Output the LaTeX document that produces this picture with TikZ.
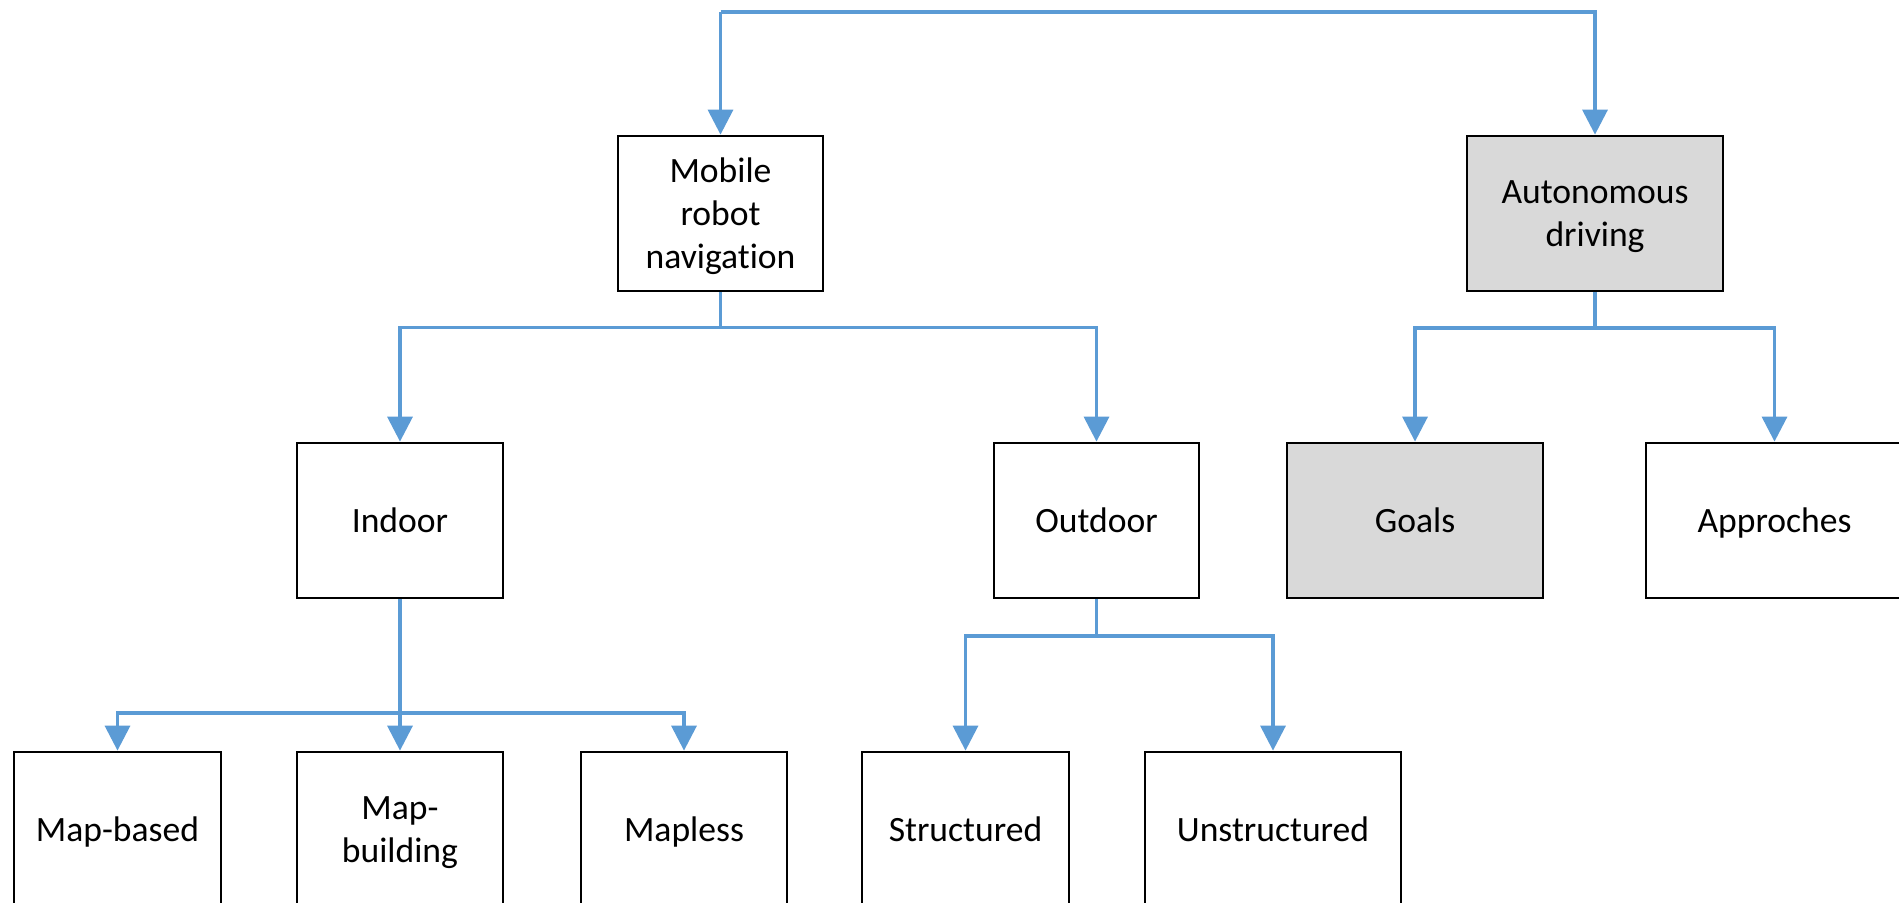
\documentclass[tikz,border=0pt]{standalone}
\usepackage{fontspec}
\setmainfont{Carlito}[Ligatures=NoCommon]
\usetikzlibrary{arrows.meta}
\definecolor{connblue}{HTML}{5B9BD5}
\definecolor{boxgray}{HTML}{D9D9D9}
\tikzset{
  box/.style={draw=black, line width=1.4pt, fill=white, minimum height=77.5pt,
    inner sep=2pt, align=center, text=black, text depth=0pt,
    font=\fontsize{17.8pt}{21.5pt}\selectfont},
  graybox/.style={box, fill=boxgray},
  conn/.style={draw=connblue, line width=1.7pt,
    -{Triangle[length=12.5pt,width=12.5pt]}},
  link/.style={draw=connblue, line width=1.7pt}
}
\begin{document}
\begin{tikzpicture}[x=0.5pt,y=-0.5pt]
\useasboundingbox (0,0) rectangle (1899,902);
\clip (0,0) rectangle (1899,902);
\fill[white] (0,0) rectangle (1899,902);
% level 1
\node[box, minimum width=102.5pt] (mobile) at (720.5,213.5) {Mobile\\robot\\navigation};
\node[graybox, minimum width=128pt] (auto) at (1595,213.5) {Autonomous\\driving};
% level 2
\node[box, minimum width=103pt] (indoor) at (400,520.5) {Indoor};
\node[box, minimum width=102.5pt] (outdoor) at (1096.5,520.5) {Outdoor};
\node[graybox, minimum width=128pt] (goals) at (1415,520.5) {Goals};
\node[box, minimum width=128.5pt] (approches) at (1774.5,520.5) {Approches};
% level 3
\node[box, minimum width=103.5pt] (mapbased) at (117.5,829.5) {Map-based};
\node[box, minimum width=103pt] (mapbuilding) at (400,829.5) {Map-\\building};
\node[box, minimum width=103pt] (mapless) at (684,829.5) {Mapless};
\node[box, minimum width=103.5pt] (structured) at (965.5,829.5) {Structured};
\node[box, minimum width=128pt] (unstructured) at (1273,829.5) {Unstructured};
% junction coordinates
\coordinate (t1) at (720.5,12);
\coordinate (t2) at (1595,12);
\coordinate (j1) at (720.5,327.5);
\coordinate (j2) at (1595,328);
\coordinate (j3) at (400,713);
\coordinate (j4) at (1096.5,636);
% connectors
\draw[conn] (t1) -- (mobile.north);
\draw[conn] (t1) -- (t2) -- (auto.north);
\draw[link] (mobile.south) -- (j1);
\draw[conn] (j1) -| (indoor.north);
\draw[conn] (j1) -| (outdoor.north);
\draw[link] (auto.south) -- (j2);
\draw[conn] (j2) -| (goals.north);
\draw[conn] (j2) -| (approches.north);
\draw[link] (indoor.south) -- (j3);
\draw[conn] (j3) -| (mapbased.north);
\draw[conn] (j3) -- (mapbuilding.north);
\draw[conn] (j3) -| (mapless.north);
\draw[link] (outdoor.south) -- (j4);
\draw[conn] (j4) -| (structured.north);
\draw[conn] (j4) -| (unstructured.north);
\end{tikzpicture}
\end{document}
